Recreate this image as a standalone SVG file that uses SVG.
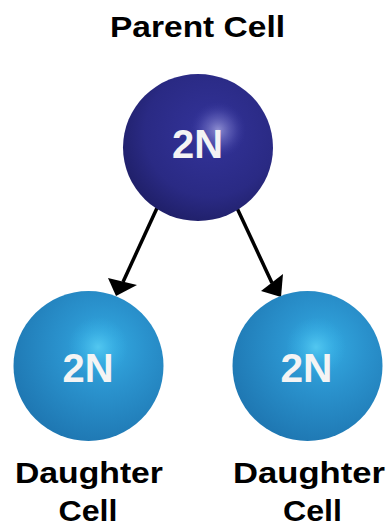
<svg xmlns="http://www.w3.org/2000/svg" width="387" height="524" viewBox="0 0 387 524">
  <defs>
    <!-- body shading for the parent sphere -->
    <radialGradient id="parentBody" cx="0.58" cy="0.4" r="0.62">
      <stop offset="0" stop-color="#33339a"/>
      <stop offset="0.7" stop-color="#2a2a84"/>
      <stop offset="1" stop-color="#20206a"/>
    </radialGradient>
    <!-- specular spot on the parent sphere -->
    <radialGradient id="parentShine" cx="0.5" cy="0.5" r="0.5">
      <stop offset="0" stop-color="#a0a0dc" stop-opacity="0.85"/>
      <stop offset="0.55" stop-color="#6a6ac0" stop-opacity="0.45"/>
      <stop offset="1" stop-color="#3a3aa0" stop-opacity="0"/>
    </radialGradient>
    <!-- body shading for the daughter spheres -->
    <radialGradient id="daughterBody" cx="0.6" cy="0.38" r="0.64">
      <stop offset="0" stop-color="#34ace3"/>
      <stop offset="0.45" stop-color="#2a92cd"/>
      <stop offset="1" stop-color="#1f78b3"/>
    </radialGradient>
    <radialGradient id="daughterShine" cx="0.5" cy="0.5" r="0.5">
      <stop offset="0" stop-color="#58cdf3" stop-opacity="0.85"/>
      <stop offset="0.6" stop-color="#40b8ea" stop-opacity="0.35"/>
      <stop offset="1" stop-color="#36b0e6" stop-opacity="0"/>
    </radialGradient>
  </defs>
  <style>
    .label { font-family: "Liberation Sans", Arial, sans-serif; font-weight: bold; fill: #000; text-anchor: middle; }
    .ploidy { font-family: "Liberation Sans", Arial, sans-serif; font-weight: bold; fill: #f4f4f4; text-anchor: middle; font-size: 40px; }
    .arrow { stroke: #000; stroke-width: 3.5; fill: none; }
    .head { fill: #000; }
  </style>

  <rect width="387" height="524" fill="#fff"/>

  <g id="connectors">
    <line class="arrow" x1="157" y1="208" x2="123" y2="282"/>
    <polygon class="head" points="108,278 137,285 116,296"/>
    <line class="arrow" x1="237" y1="208" x2="272" y2="283"/>
    <polygon class="head" points="261,291 283,274 281,297"/>
  </g>

  <g id="parent">
    <text class="label" x="197.5" y="37" font-size="30" textLength="175" lengthAdjust="spacingAndGlyphs">Parent Cell</text>
    <ellipse cx="198" cy="147.5" rx="75" ry="73.5" fill="url(#parentBody)"/>
    <circle cx="218" cy="130" r="28" fill="url(#parentShine)"/>
    <text class="ploidy" x="197.5" y="158" textLength="51" lengthAdjust="spacingAndGlyphs">2N</text>
  </g>

  <g id="daughter-left">
    <circle cx="88.5" cy="366" r="75" fill="url(#daughterBody)"/>
    <circle cx="98" cy="347" r="30" fill="url(#daughterShine)"/>
    <text class="ploidy" x="88" y="382" textLength="51" lengthAdjust="spacingAndGlyphs">2N</text>
    <text class="label" x="89" y="483" font-size="30" textLength="148" lengthAdjust="spacingAndGlyphs">Daughter</text>
    <text class="label" x="88" y="521" font-size="29" textLength="59" lengthAdjust="spacingAndGlyphs">Cell</text>
  </g>

  <g id="daughter-right">
    <circle cx="307.5" cy="366" r="75" fill="url(#daughterBody)"/>
    <circle cx="316" cy="347" r="30" fill="url(#daughterShine)"/>
    <text class="ploidy" x="306.5" y="382" textLength="52" lengthAdjust="spacingAndGlyphs">2N</text>
    <text class="label" x="309" y="483" font-size="30" textLength="152" lengthAdjust="spacingAndGlyphs">Daughter</text>
    <text class="label" x="312.5" y="521" font-size="29" textLength="59" lengthAdjust="spacingAndGlyphs">Cell</text>
  </g>
</svg>
